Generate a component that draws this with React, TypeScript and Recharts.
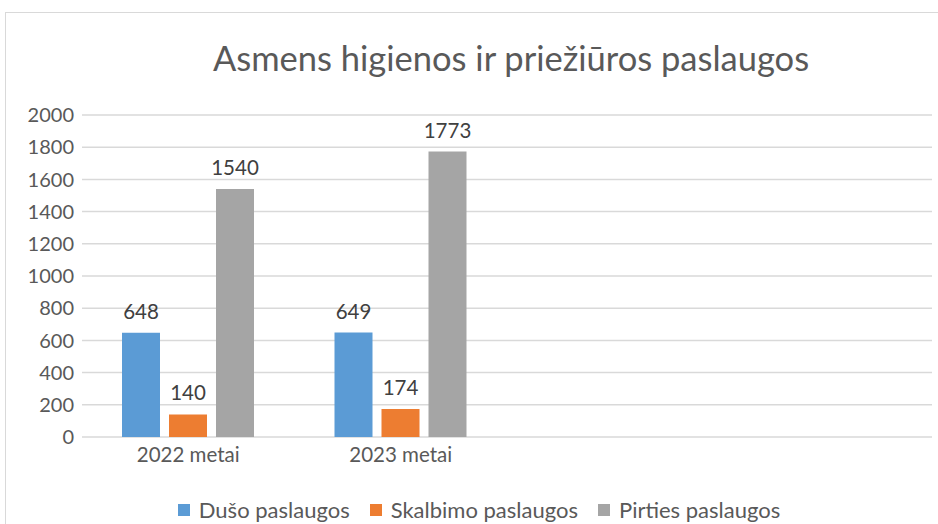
import React from 'react';
import { BarChart, Bar, XAxis, YAxis, CartesianGrid, LabelList } from 'recharts';

// two empty slots on the right, as in the source sheet
const categories = ['2022 metai', '2023 metai', '', ''];
const dusoValues = [648, 649, null, null];
const skalbimoValues = [140, 174, null, null];
const pirtiesValues = [1540, 1773, null, null];
const yTicks = [0, 200, 400, 600, 800, 1000, 1200, 1400, 1600, 1800, 2000];

const series = [
    { key: 'duso', name: 'Dušo paslaugos', color: '#5B9BD5' },
    { key: 'skalbimo', name: 'Skalbimo paslaugos', color: '#ED7D31' },
    { key: 'pirties', name: 'Pirties paslaugos', color: '#A5A5A5' },
];

const data = categories.map((name, i) => ({
    name,
    duso: dusoValues[i],
    skalbimo: skalbimoValues[i],
    pirties: pirtiesValues[i],
}));

const FONT = 'Lato, "Open Sans", sans-serif';

const App: React.FC = () => {
    return (
        <div style={{ position: 'fixed', left: 0, top: 0, width: 938, height: 524, background: '#fff', overflow: 'hidden' }}>
            {/* chart frame, runs off the right and bottom edge */}
            <div style={{ position: 'absolute', left: 5, top: 12, width: 1100, height: 600, border: '1px solid #d9d9d9' }} />
            <div style={{ position: 'absolute', left: 0, top: 37, width: 1022, textAlign: 'center', fontFamily: FONT, fontSize: 34.5, color: '#595959' }}>
                Asmens higienos ir priežiūros paslaugos
            </div>
            <div style={{ position: 'absolute', left: 0, top: 0 }}>
                <BarChart
                    width={938}
                    height={524}
                    data={data}
                    margin={{ top: 115, right: 6, left: 0, bottom: 57 }}
                    barCategoryGap={40}
                    barGap={9}
                >
                    <CartesianGrid vertical={false} stroke="#d9d9d9" strokeWidth={1.5} />
                    <XAxis
                        dataKey="name"
                        height={30}
                        axisLine={false}
                        tickLine={false}
                        tick={{ fontSize: 20.5, fill: '#595959', fontFamily: FONT }}
                        tickMargin={4}
                    />
                    <YAxis
                        width={82}
                        domain={[0, 2000]}
                        ticks={yTicks}
                        axisLine={false}
                        tickLine={false}
                        tick={{ fontSize: 20, fill: '#595959', fontFamily: FONT }}
                        interval={0}
                    />
                    {series.map(s => (
                        <Bar key={s.key} dataKey={s.key} name={s.name} fill={s.color} isAnimationActive={false}>
                            <LabelList dataKey={s.key} position="top" offset={14} style={{ fontSize: 20.5, fill: '#404040', fontFamily: FONT }} />
                        </Bar>
                    ))}
                </BarChart>
            </div>
            {/* legend */}
            <div style={{ position: 'absolute', left: 10, top: 496, width: 958, display: 'flex', justifyContent: 'center', fontFamily: FONT, fontSize: 22, color: '#595959' }}>
                {series.map(s => (
                    <div key={s.key} style={{ display: 'flex', alignItems: 'center', marginRight: 20 }}>
                        <span style={{ width: 12, height: 12, background: s.color, display: 'inline-block', marginRight: 9 }} />
                        <span>{s.name}</span>
                    </div>
                ))}
            </div>
        </div>
    );
};

export default App;
